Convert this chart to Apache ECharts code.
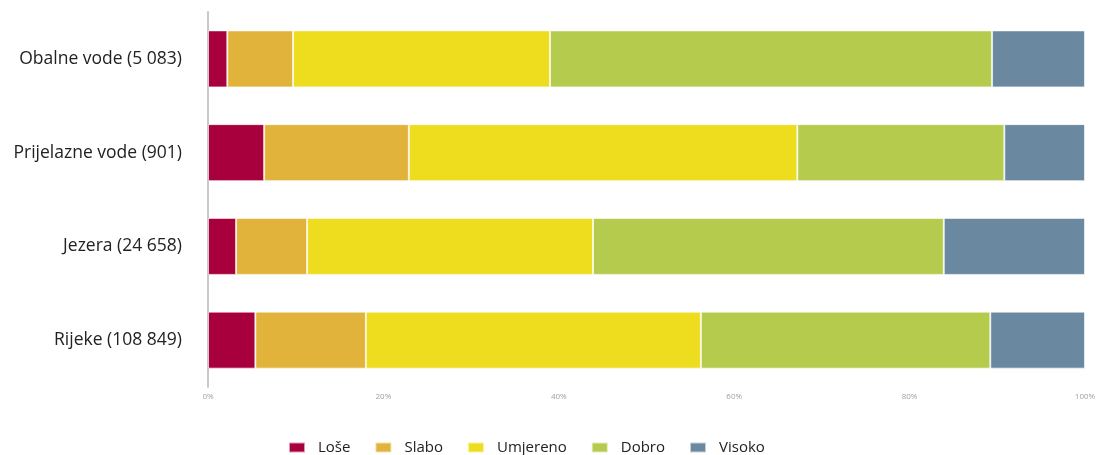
<!DOCTYPE html>
<html>
<head>
<meta charset="utf-8">
<script src="https://cdn.jsdelivr.net/npm/echarts@6/dist/echarts.min.js"></script>
<style>
  html, body { margin: 0; padding: 0; background: #fff; }
  #chart { width: 1101px; height: 455px; }
</style>
</head>
<body>
<div id="chart"></div>
<script>
// categories, bottom to top (category axis on y starts at the bottom)
const categories = ['Rijeke (108 849)', 'Jezera (24 658)', 'Prijelazne vode (901)', 'Obalne vode (5 083)']

// percentage shares per class, same order as categories
const lose     = [5.4, 3.2, 6.4, 2.2]
const slabo    = [12.6, 8.1, 16.5, 7.5]
const umjereno = [38.2, 32.6, 44.3, 29.3]
const dobro    = [33.0, 40.0, 23.6, 50.4]
const visoko   = [10.8, 16.1, 9.2, 10.6]

const seriesNames = ['Loše', 'Slabo', 'Umjereno', 'Dobro', 'Visoko']
const seriesData = [lose, slabo, umjereno, dobro, visoko]
const colors = ['#a8003c', '#e2b33b', '#eedc1f', '#b5cb4e', '#6a89a0']

const chart = echarts.init(document.getElementById('chart'))

const option = {
  backgroundColor: '#fff',
  animation: false,
  textStyle: { fontFamily: 'Open Sans, sans-serif' },
  grid: { left: 208, right: 16, top: 12, bottom: 68 },
  xAxis: {
    type: 'value',
    min: 0, max: 100, interval: 20,
    axisLine: { show: false },
    axisTick: { show: false },
    splitLine: { show: false },
    axisLabel: { formatter: '{value}%', fontSize: 8, color: '#a0a0a0', margin: 6 }
  },
  yAxis: {
    type: 'category',
    data: categories,
    axisLine: { show: true, lineStyle: { color: '#c8c8c8', width: 2 } },
    axisTick: { show: false },
    axisLabel: { fontSize: 17.5, color: '#222', margin: 26 }
  },
  legend: {
    left: 283, top: 435,
    itemWidth: 16, itemHeight: 10, itemGap: 24,
    icon: 'rect',
    textStyle: { fontSize: 15, color: '#222', padding: [0, 0, 0, 8] },
    data: seriesNames
  },
  series: seriesNames.map((name, i) => ({
    name,
    type: 'bar',
    stack: 'total',
    barWidth: 57,
    data: seriesData[i],
    itemStyle: { color: colors[i], borderColor: 'rgba(255,255,255,0.6)', borderWidth: 1 }
  }))
}

chart.setOption(option)
</script>
</body>
</html>
